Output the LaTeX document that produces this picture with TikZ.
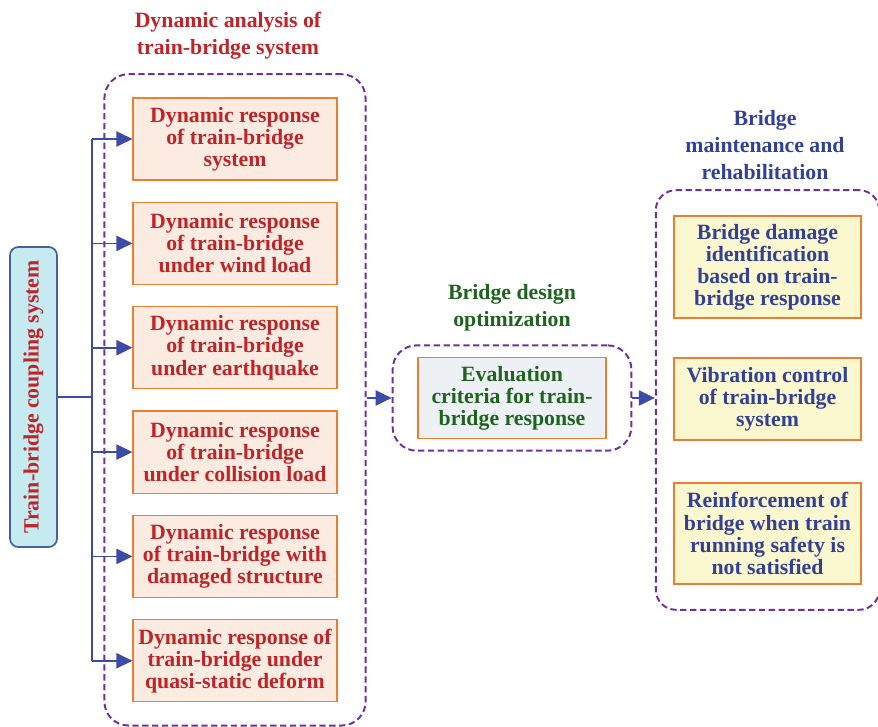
\documentclass[tikz,border=0pt]{standalone}
\usepackage{fontspec}
\setmainfont{Liberation Serif}
\usepackage{xcolor}
\usepackage{tikz}
\usetikzlibrary{arrows.meta, positioning, fit}
\definecolor{darkred}{RGB}{190, 36, 40}
\definecolor{peachfill}{RGB}{251, 235, 224}
\definecolor{edgeorange}{RGB}{237, 125, 49}
\definecolor{cyanfill}{RGB}{197, 235, 240}
\definecolor{slateblue}{RGB}{70, 98, 150}
\definecolor{linkblue}{RGB}{60, 75, 165}
\definecolor{groupviolet}{RGB}{112, 48, 160}
\definecolor{darkgreen}{RGB}{30, 100, 30}
\definecolor{greyfill}{RGB}{237, 240, 245}
\definecolor{navytext}{RGB}{50, 65, 150}
\definecolor{yellowfill}{RGB}{251, 247, 206}

\begin{document}
\begin{tikzpicture}[
    x=0.025cm, y=-0.025cm,
    boxfont/.style={font=\bfseries\fontsize{15.5}{15.7}\selectfont},
    titlefont/.style={font=\bfseries\fontsize{15.5}{19.5}\selectfont},
    resp/.style={draw=edgeorange, fill=peachfill, text=darkred, boxfont, align=center,
                 minimum width=5.1cm, minimum height=2.05cm, inner sep=1pt, line width=0.8pt},
    evalbox/.style={draw=edgeorange, fill=greyfill, text=darkgreen, boxfont, align=center,
                 minimum width=4.7cm, minimum height=2.025cm, inner sep=1pt, line width=0.8pt},
    maint/.style={draw=edgeorange, fill=yellowfill, text=navytext, boxfont, align=center,
                 minimum width=4.675cm, inner sep=1pt, line width=0.8pt},
    group/.style={draw=groupviolet, dash pattern=on 4.5pt off 2.5pt, line width=1.4pt,
                  rounded corners=0.6cm},
    title/.style={titlefont, align=center},
    link/.style={linkblue, line width=1.2pt},
    arrow/.style={-{Triangle[length=4mm, width=3.8mm]}, linkblue, line width=1.2pt}
]
    \useasboundingbox (0,0) rectangle (878,727);

    % source
    \node[draw=slateblue, fill=cyanfill, text=darkred, rounded corners=6pt, rotate=90,
          minimum width=7.5cm, minimum height=1.175cm, line width=1.2pt,
          font=\bfseries\fontsize{15.5}{15.7}\selectfont] (tbcs) at (33.5,397)
          {Train-bridge coupling system};
    \coordinate (bus) at (92,397);

    % dynamic analysis
    \node[resp] (r1) at (235,139) {Dynamic response\\of train-bridge\\system};
    \node[resp, below=0.53cm of r1] (r2) {Dynamic response\\of train-bridge\\under wind load};
    \node[resp, below=0.53cm of r2] (r3) {Dynamic response\\of train-bridge\\under earthquake};
    \node[resp, below=0.53cm of r3] (r4) {Dynamic response\\of train-bridge\\under collision load};
    \node[resp, below=0.53cm of r4] (r5) {Dynamic response\\of train-bridge with\\damaged structure};
    \node[resp, below=0.53cm of r5] (r6) {Dynamic response of\\train-bridge under\\quasi-static deform};
    \node[group, fit=(r1)(r6), inner xsep=0.7cm, inner ysep=0.58cm] (grp1) {};
    \node[title, text=darkred] (t1) at (228,36) {Dynamic analysis of\\train-bridge system};

    % design optimization
    \node[evalbox] (ev) at (512,398) {Evaluation\\criteria for train-\\bridge response};
    \node[group, fit=(ev), inner xsep=0.62cm, inner ysep=0.29cm] (grp2) {};
    \node[title, text=darkgreen] (t2) at (512,308) {Bridge design\\optimization};

    % maintenance
    \node[maint, minimum height=2.55cm] (m1) at (767.5,267)
        {Bridge damage\\identification\\based on train-\\bridge response};
    \node[maint, minimum height=2.05cm] (m2) at (767.5,399)
        {Vibration control\\of train-bridge\\system};
    \node[maint, minimum height=2.525cm] (m3) at (767.5,533.5)
        {Reinforcement of\\bridge when train\\running safety is\\not satisfied};
    \node[group, fit=(m1)(m3), inner xsep=0.44cm, inner ysep=0.63cm,
          rounded corners=0.5cm] (grp3) {};
    \node[title, text=navytext] (t3) at (765,145) {Bridge\\maintenance and\\rehabilitation};

    % connectors
    \draw[link] (tbcs.south) -- (bus);
    \draw[link] (bus |- r1.west) -- (bus |- r6.west);
    \foreach \i in {1,...,6}
        \draw[arrow] (bus |- r\i.west) -- (r\i.west);
    \draw[arrow] (grp1.east |- grp2.west) -- (grp2.west);
    \draw[arrow] (grp2.east) -- (grp2.east -| grp3.west);
\end{tikzpicture}
\end{document}
